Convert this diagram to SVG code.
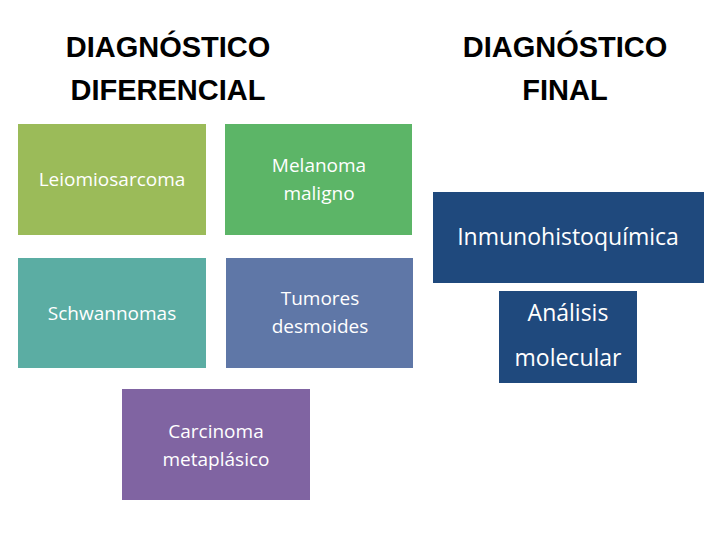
<svg xmlns="http://www.w3.org/2000/svg" width="720" height="540" viewBox="0 0 720 540">
<style>
text{font-family:"Open Sans","Noto Sans",sans-serif;fill:#fff;text-anchor:middle}
.h{font-family:"Liberation Sans",Arial,sans-serif;font-weight:bold;fill:#000;font-size:29px}
.n{font-size:19px}
.b{fill:#1F497D;stroke:#fff;stroke-width:2}
</style>
<rect width="720" height="540" fill="#fff"/>
<text class="h" x="168" y="57">DIAGNÓSTICO</text>
<text class="h" x="168" y="100">DIFERENCIAL</text>
<text class="h" x="565" y="57">DIAGNÓSTICO</text>
<text class="h" x="565" y="100">FINAL</text>
<g id="leio"><rect x="18" y="124" width="188" height="111" fill="#9BBB59"/><text class="n" x="112" y="186">Leiomiosarcoma</text></g>
<g id="melanoma"><rect x="225" y="124" width="187" height="111" fill="#5CB567"/><text class="n" x="319" y="172">Melanoma</text><text class="n" x="319" y="200">maligno</text></g>
<g id="schwann"><rect x="18" y="258" width="188" height="110" fill="#5BADA3"/><text class="n" x="112" y="320">Schwannomas</text></g>
<g id="tumores"><rect x="226" y="258" width="187" height="110" fill="#5F77A7"/><text class="n" x="320" y="305">Tumores</text><text class="n" x="320" y="333">desmoides</text></g>
<g id="carcinoma"><rect x="122" y="389" width="188" height="111" fill="#8064A2"/><text class="n" x="216" y="438">Carcinoma</text><text class="n" x="216" y="466">metaplásico</text></g>
<g id="inmuno"><rect class="b" x="432" y="191" width="273" height="93"/><text x="568" y="245" font-size="23">Inmunohistoquímica</text></g>
<g id="analisis"><rect class="b" x="498" y="290" width="140" height="94"/><text x="568" y="321" font-size="23">Análisis</text><text x="568" y="366" font-size="23">molecular</text></g>
<g id="connectors"/>
</svg>
